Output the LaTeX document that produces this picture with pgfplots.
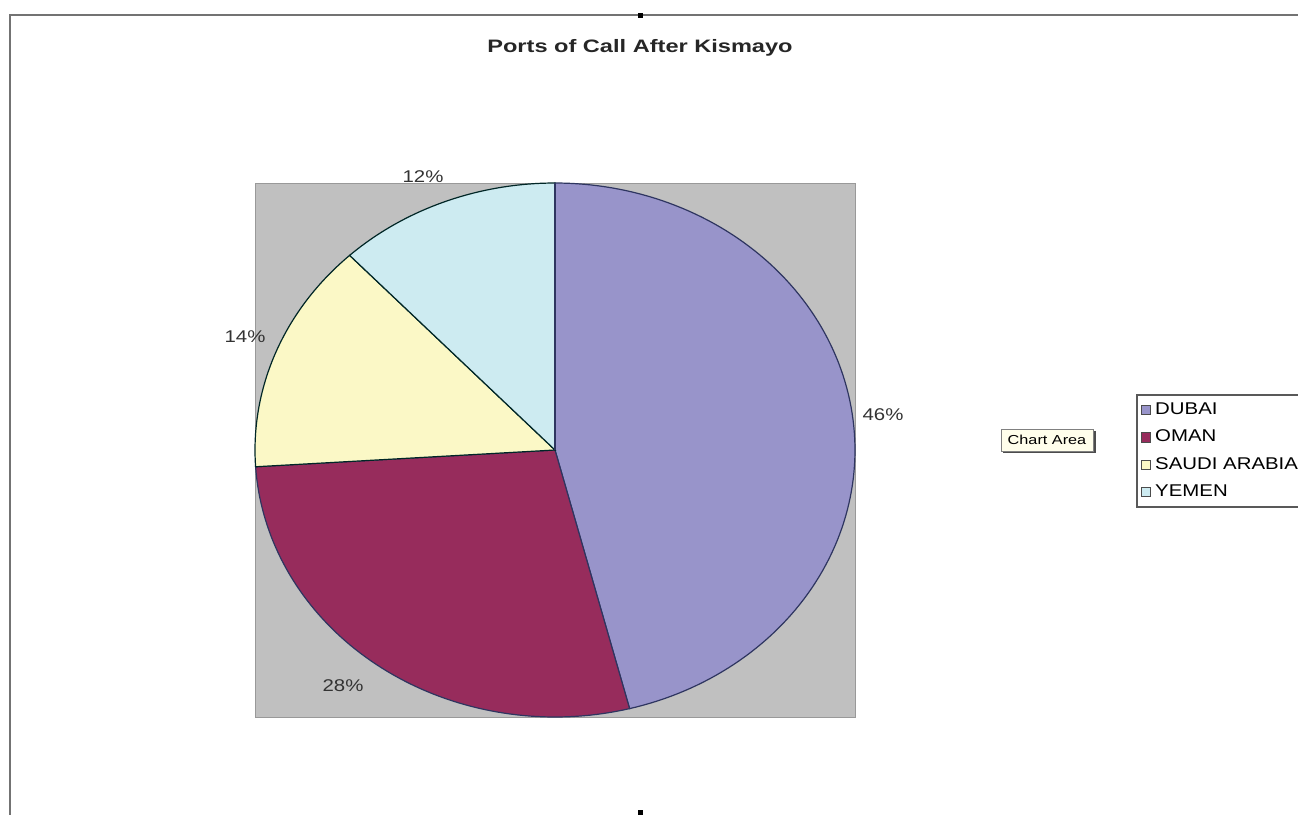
\documentclass[border=0pt]{standalone}
\usepackage{graphicx}
\usepackage{pgfplots}
\pgfplotsset{compat=1.18}
\usepackage{fontspec}
\setmainfont{Liberation Sans}
\definecolor{dubai}{HTML}{9894CA}
\definecolor{oman}{HTML}{972C5C}
\definecolor{saudi}{HTML}{FBF8C6}
\definecolor{yemen}{HTML}{CDEBF1}
\definecolor{plotgray}{HTML}{C0C0C0}
\definecolor{edge}{HTML}{2E3560}
% shares (percent): DUBAI 46, OMAN 28, SAUDI ARABIA 14, YEMEN 12
\newcommand{\cx}{555}\newcommand{\cy}{450}\newcommand{\rx}{300}\newcommand{\ry}{267}
\newcommand{\wide}[1]{\scalebox{1.2}[1]{#1}}
\begin{document}
\begin{tikzpicture}
\begin{axis}[
  at={(0,0)}, anchor=south west,
  width=649pt, height=407.5pt, scale only axis,
  xmin=0, xmax=1298, ymin=0, ymax=815, y dir=reverse,
  hide axis, clip=false,
  legend style={at={(axis cs:1136,394)}, anchor=north west, draw=black!65, line width=1pt,
    font=\fontsize{8.5}{10}\selectfont, row sep=2.2pt, inner sep=2pt, cells={anchor=west}},
  legend image code/.code={\draw[#1, draw=black!70, line width=0.5pt] (2pt,-2.3pt) rectangle (6.6pt,2.3pt);},
  legend cell align=left,
]
% frame
\draw[black!55, line width=0.8pt] (axis cs:10,815) -- (axis cs:10,15) -- (axis cs:1298,15);
\fill[black] (axis cs:638,13) rectangle (axis cs:643,18);
\fill[black] (axis cs:638,810) rectangle (axis cs:643,815);
% plot area
\draw[fill=plotgray, draw=black!40, line width=0.5pt] (axis cs:255,183) rectangle (axis cs:855,717);
% slices
\addplot[fill=dubai, draw=edge, line width=0.6pt, samples=120, domain=0:46*3.6, variable=\t]
  ({\cx+\rx*sin(t)},{\cy-\ry*cos(t)}) -- (axis cs:\cx,\cy) -- cycle;
\addlegendentry{\wide{DUBAI}}
\addplot[fill=oman, draw=edge, line width=0.6pt, samples=80, domain=46*3.6:74*3.6, variable=\t]
  ({\cx+\rx*sin(t)},{\cy-\ry*cos(t)}) -- (axis cs:\cx,\cy) -- cycle;
\addlegendentry{\wide{OMAN}}
\addplot[fill=saudi, draw=black!70!teal, line width=0.6pt, samples=60, domain=74*3.6:88*3.6, variable=\t]
  ({\cx+\rx*sin(t)},{\cy-\ry*cos(t)}) -- (axis cs:\cx,\cy) -- cycle;
\addlegendentry{\wide{SAUDI ARABIA}}
\addplot[fill=yemen, draw=black!70!teal, line width=0.6pt, samples=60, domain=88*3.6:360, variable=\t]
  ({\cx+\rx*sin(t)},{\cy-\ry*cos(t)}) -- (axis cs:\cx,\cy) -- cycle;
\addlegendentry{\wide{YEMEN}}
\draw[edge, line width=0.6pt] (axis cs:\cx,\cy) -- (axis cs:\cx,183);
% labels
\node[font=\bfseries\fontsize{9}{11}\selectfont, text=black!85] at (axis cs:640,48) {\scalebox{1.31}[1]{Ports of Call After Kismayo}};
\node[font=\fontsize{8.5}{10}\selectfont, text=black!80] at (axis cs:883,415) {\wide{46\%}};
\node[font=\fontsize{8.5}{10}\selectfont, text=black!80] at (axis cs:343,686) {\wide{28\%}};
\node[font=\fontsize{8.5}{10}\selectfont, text=black!80] at (axis cs:245,337) {\wide{14\%}};
\node[font=\fontsize{8.5}{10}\selectfont, text=black!80] at (axis cs:423,177) {\wide{12\%}};
% tooltip
\fill[black!70] (axis cs:1003,431) rectangle (axis cs:1096,453);
\node[draw=black!50, fill=yellow!8, line width=0.3pt, font=\fontsize{6.5}{7.5}\selectfont, minimum width=46pt, minimum height=11pt, inner sep=1pt] at (axis cs:1047,440) {\scalebox{1.25}[1]{Chart Area}};
\end{axis}
\pgfresetboundingbox
\path (0,0) rectangle (649pt,407.5pt);
\end{tikzpicture}
\end{document}
